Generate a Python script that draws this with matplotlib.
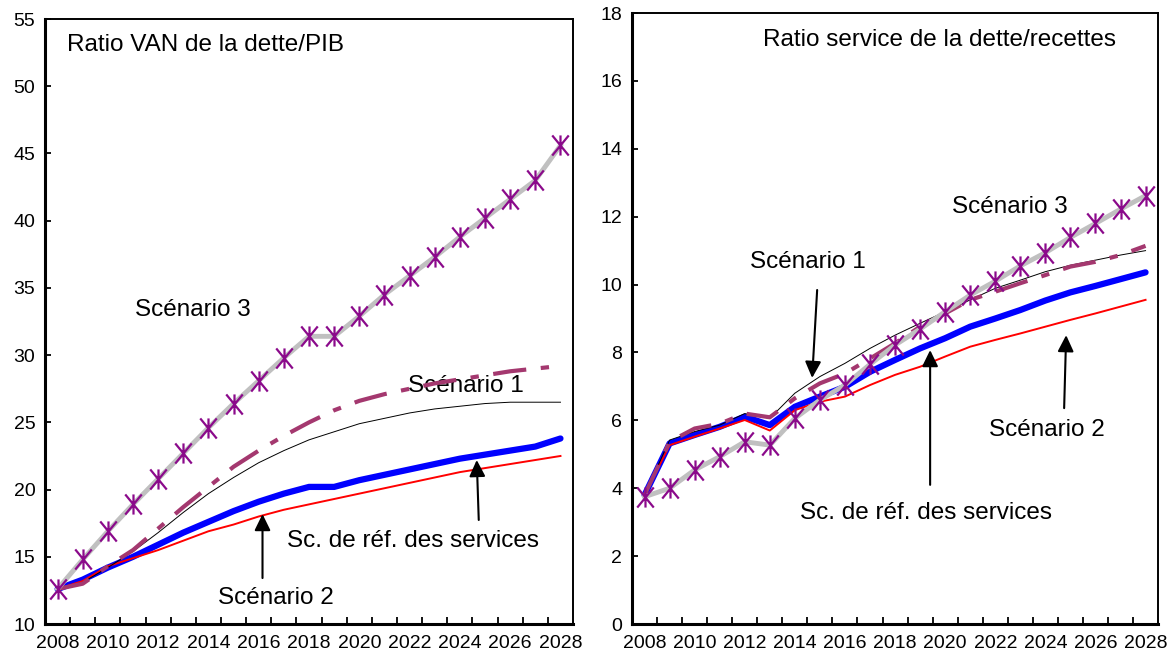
import matplotlib
matplotlib.use("Agg")
import matplotlib.pyplot as plt
from matplotlib.path import Path
import numpy as np

plt.rcParams['font.family'] = ['Liberation Sans', 'DejaVu Sans']

years = list(range(2008, 2029))
year_labels = [str(y) for y in range(2008, 2029, 2)]

# Left panel: PV of debt / GDP
left_base = [12.6, 13.3, 14.2, 15.0, 15.9, 16.8, 17.6, 18.4, 19.1, 19.7, 20.2,
             20.2, 20.7, 21.1, 21.5, 21.9, 22.3, 22.6, 22.9, 23.2, 23.8]
left_s1 = [12.6, 13.1, 14.2, 15.4, 16.8, 18.3, 19.7, 20.9, 22.0, 22.9, 23.7,
           24.3, 24.9, 25.3, 25.7, 26.0, 26.2, 26.4, 26.5, 26.5, 26.5]
left_s1b = [12.6, 13.0, 14.3, 15.5, 17.1, 18.7, 20.2, 21.7, 22.9, 24.0, 25.0,
            25.9, 26.6, 27.1, 27.5, 27.9, 28.2, 28.5, 28.8, 29.0, 29.2]
left_s2 = [12.6, 13.2, 14.3, 14.9, 15.5, 16.2, 16.9, 17.4, 18.0, 18.5, 18.9,
           19.3, 19.7, 20.1, 20.5, 20.9, 21.3, 21.6, 21.9, 22.2, 22.5]
left_s3 = [12.6, 14.8, 16.9, 18.9, 20.8, 22.7, 24.6, 26.4, 28.1, 29.8, 31.4,
           31.4, 32.9, 34.5, 35.9, 37.3, 38.8, 40.2, 41.6, 43.0, 45.6]

# Right panel: debt service / revenue
right_base = [3.8, 5.32, 5.57, 5.81, 6.11, 5.86, 6.40, 6.70, 6.99, 7.43, 7.78,
              8.12, 8.42, 8.76, 9.00, 9.25, 9.53, 9.77, 9.96, 10.16, 10.36]
right_s1 = [3.8, 5.42, 5.67, 5.86, 6.20, 6.06, 6.80, 7.29, 7.68, 8.12, 8.51,
            8.86, 9.20, 9.55, 9.89, 10.13, 10.38, 10.57, 10.72, 10.87, 11.0]
right_s1b = [3.8, 5.37, 5.76, 5.90, 6.20, 6.09, 6.65, 7.09, 7.38, 7.82, 8.27,
             8.76, 9.15, 9.55, 9.79, 10.04, 10.28, 10.53, 10.67, 10.87, 11.14]
right_s2 = [3.8, 5.27, 5.52, 5.76, 6.01, 5.70, 6.30, 6.55, 6.70, 7.04, 7.34,
            7.58, 7.88, 8.17, 8.37, 8.56, 8.76, 8.96, 9.15, 9.35, 9.55]
right_s3 = [3.75, 4.0, 4.54, 4.93, 5.37, 5.27, 6.06, 6.60, 7.04, 7.65, 8.22,
            8.69, 9.20, 9.69, 10.10, 10.55, 10.94, 11.39, 11.80, 12.22, 12.62]

FS = 17.5   # annotation text
TS = 14     # tick labels

# Excel-like asterisk marker: vertical bar + steep X
_w = 0.82
star = Path([(0, -1), (0, 1), (-_w, -1), (_w, 1), (-_w, 1), (_w, -1)],
            [Path.MOVETO, Path.LINETO, Path.MOVETO, Path.LINETO, Path.MOVETO, Path.LINETO])

fig = plt.figure(figsize=(11.75, 6.64), dpi=100)
axL = fig.add_axes([0.0383, 0.0602, 0.4494, 0.9111])
axR = fig.add_axes([0.5379, 0.0602, 0.4477, 0.9202])


def draw(ax, base, s1, s1b, s2, s3):
    ax.plot(years, base, color='#0000FF', lw=4.5, solid_capstyle='round', zorder=2)
    ax.plot(years, s2, color='#FF0000', lw=1.4, zorder=3)
    ax.plot(years, s1, color='black', lw=0.7, zorder=3)
    ax.plot(years, s1b, color='#A4386F', lw=3.0, dashes=(8, 3.5, 2, 3.5),
            dash_capstyle='butt', zorder=4)
    ax.plot(years, s3, color='#C0C0C0', lw=3.5, zorder=5)
    ax.plot(years, s3, ls='none', marker=star, ms=14.5, mew=1.6, mfc='none',
            mec='#8B0A8B', zorder=6)
    ax.set_xlim(2007.5, 2028.5)
    ax.set_xticks(range(2008, 2029, 2))
    ax.set_xticklabels(year_labels, fontsize=TS)
    ax.set_xticks(np.arange(2008.5, 2028, 1), minor=True)
    ax.tick_params(axis='x', which='major', length=0, pad=8)
    ax.tick_params(axis='x', which='minor', direction='in', length=5, width=1.3)
    ax.tick_params(axis='y', direction='in', length=4, width=1.3, labelsize=TS, pad=7)
    for s in ['left', 'bottom']:
        ax.spines[s].set_linewidth(2.2)
    for s in ['top', 'right']:
        ax.spines[s].set_linewidth(1.4)


draw(axL, left_base, left_s1, left_s1b, left_s2, left_s3)
axL.set_ylim(10, 55)
axL.set_yticks(range(10, 56, 5))

draw(axR, right_base, right_s1, right_s1b, right_s2, right_s3)
axR.set_ylim(0, 18)
axR.set_yticks(range(0, 19, 2))

arrow = dict(arrowstyle='-|>,head_length=0.45,head_width=0.22', color='black',
             lw=1.5, mutation_scale=22, shrinkA=0, shrinkB=0)

# Left annotations
axL.text(0.042, 0.957, 'Ratio VAN de la dette/PIB', transform=axL.transAxes,
         fontsize=FS, ha='left', va='center')
axL.text(2011.09, 33.36, 'Scénario 3', fontsize=FS, ha='left', va='center')
axL.text(2021.92, 27.7, 'Scénario 1', fontsize=FS, ha='left', va='center')
axL.text(2017.14, 16.18, 'Sc. de réf. des services', fontsize=FS, ha='left', va='center')
axL.text(2014.39, 11.93, 'Scénario 2', fontsize=FS, ha='left', va='center')
axL.annotate('', xy=(2016.15, 18.18), xytext=(2016.15, 13.42), arrowprops=arrow)
axL.annotate('', xy=(2024.67, 22.2), xytext=(2024.75, 17.74), arrowprops=arrow)

# Right annotations
axR.text(0.249, 0.956, 'Ratio service de la dette/recettes', transform=axR.transAxes,
         fontsize=FS, ha='left', va='center')
axR.text(2020.27, 12.29, 'Scénario 3', fontsize=FS, ha='left', va='center')
axR.text(2012.21, 10.67, 'Scénario 1', fontsize=FS, ha='left', va='center')
axR.text(2021.75, 5.72, 'Scénario 2', fontsize=FS, ha='left', va='center')
axR.text(2014.21, 3.27, 'Sc. de réf. des services', fontsize=FS, ha='left', va='center')
axR.annotate('', xy=(2014.69, 7.25), xytext=(2014.89, 9.84), arrowprops=arrow)
axR.annotate('', xy=(2024.83, 8.51), xytext=(2024.75, 6.36), arrowprops=arrow)
axR.annotate('', xy=(2019.4, 8.07), xytext=(2019.4, 4.1), arrowprops=arrow)

fig.savefig('out.png', dpi=100)
